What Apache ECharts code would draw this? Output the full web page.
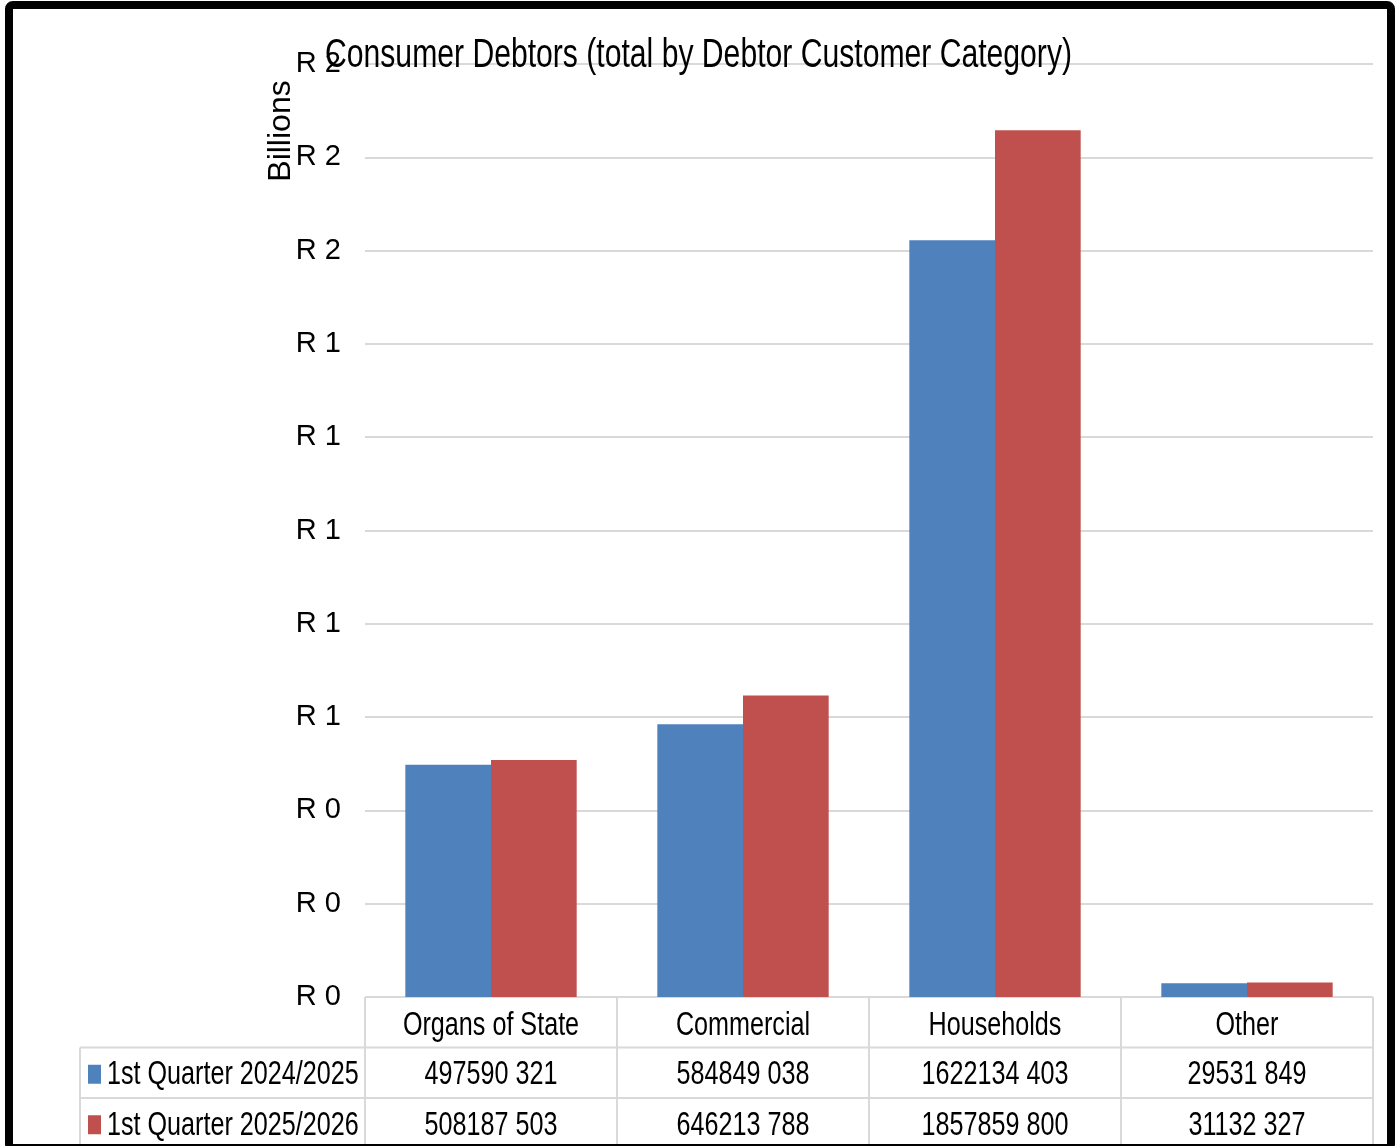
<!DOCTYPE html>
<html>
<head>
<meta charset="utf-8">
<script src="https://cdn.jsdelivr.net/npm/echarts@6/dist/echarts.min.js"></script>
<style>
  html, body { margin: 0; padding: 0; background: #fff; }
  #chart { width: 1397px; height: 1146px; }
</style>
</head>
<body>
<div id="chart"></div>
<script>
const categories = ['Organs of State', 'Commercial', 'Households', 'Other'];
const seriesNames = ['1st Quarter 2024/2025', '1st Quarter 2025/2026'];
const q2024 = [497590321, 584849038, 1622134403, 29531849];
const q2025 = [508187503, 646213788, 1857859800, 31132327];
const tableQ2024 = ['497590 321', '584849 038', '1622134 403', '29531 849'];
const tableQ2025 = ['508187 503', '646213 788', '1857859 800', '31132 327'];
const colors = ['#4F81BD', '#C0504D'];

// no narrow font installed, so text is drawn with Liberation Sans squeezed horizontally
const FONT = "'Liberation Sans', Arial, sans-serif";
const SQUEEZE = 0.74;
const W = 1397, H = 1146;
const gLeft = 365, gRight = 1373, gTop = 64, gBottom = 997;
const rowH = 50.5;
const tableLeft = 80;
const lineColor = '#d9d9d9';

const chart = echarts.init(document.getElementById('chart'));

chart.setOption({
  backgroundColor: '#fff',
  animation: false,
  grid: { left: gLeft, right: W - gRight, top: gTop, bottom: H - gBottom, outerBoundsMode: 'none' },
  xAxis: {
    type: 'category', data: categories,
    axisLine: { show: false }, axisTick: { show: false }, axisLabel: { show: false },
  },
  yAxis: {
    type: 'value', min: 0, max: 2e9, interval: 2e8,
    axisLine: { show: false }, axisTick: { show: false },
    axisLabel: {
      fontFamily: FONT, fontSize: 29, color: '#000', margin: 24, padding: [4, 0, 0, 0],
      formatter: v => 'R ' + Math.round(v / 1e9),
    },
    splitLine: { lineStyle: { color: lineColor, width: 2 } },
  },
  series: [
    { name: seriesNames[0], type: 'bar', data: q2024, barGap: '0%', barCategoryGap: '32%', itemStyle: { color: colors[0] } },
    { name: seriesNames[1], type: 'bar', data: q2025, itemStyle: { color: colors[1] } },
  ],
});

// title, axis name and the data table below the axis
const g = [];
const txt = (x, y, text, size, align, scale) => g.push({
  type: 'text', x, y, scaleX: scale, z: 20,
  style: { text, font: `${size}px ${FONT}`, fill: '#000', textAlign: align, textVerticalAlign: 'middle' },
});
const hline = (x1, x2, y) => g.push({ type: 'line', shape: { x1, y1: y, x2, y2: y }, style: { stroke: lineColor, lineWidth: 2 } });
const vline = (x, y1, y2) => g.push({ type: 'line', shape: { x1: x, y1, x2: x, y2 }, style: { stroke: lineColor, lineWidth: 2 } });

txt(W / 2, 56, 'Consumer Debtors (total by Debtor Customer Category)', 41, 'center', 0.735);
g.push({
  type: 'text', x: 281, y: 131, rotation: Math.PI / 2, z: 20,
  style: { text: 'Billions', font: `32px ${FONT}`, fill: '#000', textAlign: 'center', textVerticalAlign: 'middle' },
});

const colW = (gRight - gLeft) / categories.length;
hline(gLeft, gRight, gBottom);
hline(tableLeft, gRight, gBottom + rowH);
hline(tableLeft, gRight, gBottom + 2 * rowH);
vline(tableLeft, gBottom + rowH, H);
for (let i = 0; i <= categories.length; i++) vline(gLeft + i * colW, gBottom, H);

categories.forEach((c, i) => {
  const cx = chart.convertToPixel({ xAxisIndex: 0 }, c);
  txt(cx, gBottom + rowH * 0.5 + 3, c, 34, 'center', SQUEEZE);
});
[tableQ2024, tableQ2025].forEach((row, r) => {
  const cy = gBottom + rowH * (r + 1.5) + 2;
  g.push({ type: 'rect', shape: { x: 88, y: cy - 10, width: 13, height: 19 }, style: { fill: colors[r] } });
  txt(107, cy, seriesNames[r], 34, 'left', SQUEEZE);
  row.forEach((v, i) => {
    txt(chart.convertToPixel({ xAxisIndex: 0 }, categories[i]), cy, v, 34, 'center', SQUEEZE);
  });
});

// outer black frame
g.push({ type: 'rect', shape: { x: 9, y: 5, width: W - 15, height: H - 3, r: 4 }, style: { fill: 'none', stroke: '#000', lineWidth: 8 }, z: 100 });

chart.setOption({ graphic: g });
</script>
</body>
</html>
